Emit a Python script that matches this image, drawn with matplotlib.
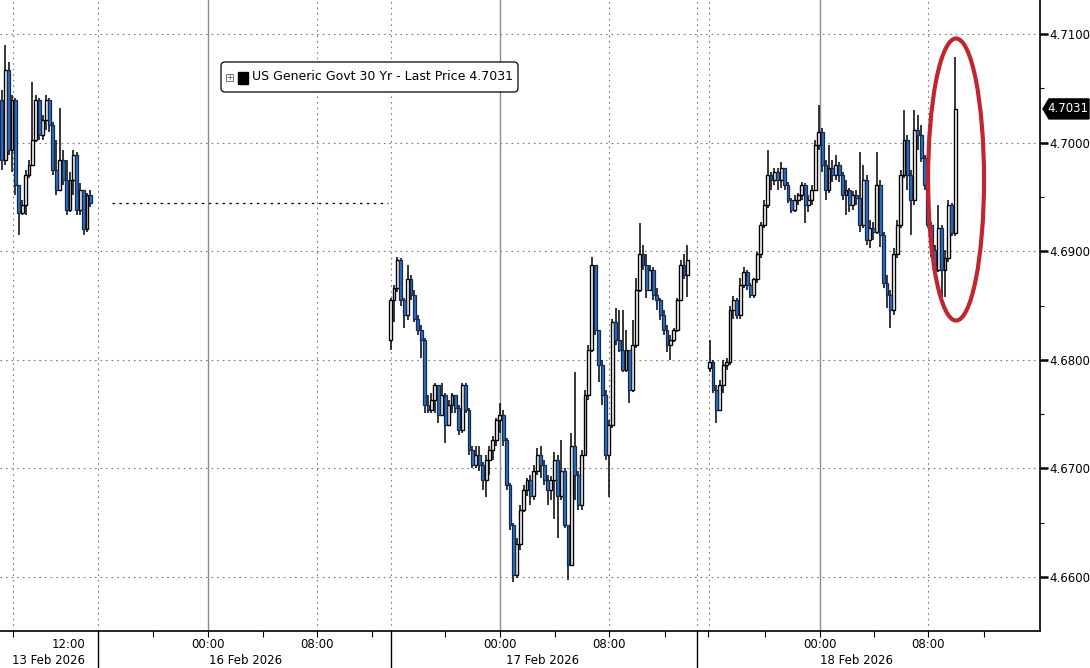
import numpy as np
import matplotlib
matplotlib.use("Agg")
import matplotlib.pyplot as plt
import matplotlib.transforms as mtransforms
from matplotlib.patches import Ellipse, FancyBboxPatch, Rectangle, Polygon

# 15 minute bars. x axis = trading time in hours, gaps squeezed out like the terminal does
bar_step = 0.25

# 13 Feb 2026 (session end)
s1_start = 0.125
s1_open0 = 4.7039
s1_close = [4.6984, 4.7067, 4.6993, 4.7039, 4.6961, 4.6935, 4.6943, 4.6970, 4.6979, 4.7002,
            4.7039, 4.7007, 4.7021, 4.7039, 4.7016, 4.6975, 4.6956, 4.6984, 4.6966, 4.6938,
            4.6966, 4.6989, 4.6938, 4.6956, 4.6920, 4.6952, 4.6944]
s1_high = [4.7048, 4.7090, 4.7074, 4.7044, 4.7041, 4.6961, 4.6947, 4.6975, 4.6984, 4.7056,
           4.7044, 4.7041, 4.7025, 4.7044, 4.7041, 4.7019, 4.7002, 4.7032, 4.6993, 4.6984,
           4.6973, 4.6993, 4.6991, 4.6963, 4.6956, 4.6954, 4.6956]
s1_low = [4.6975, 4.6979, 4.6989, 4.6973, 4.6952, 4.6915, 4.6933, 4.6933, 4.6967, 4.6979,
          4.7001, 4.7002, 4.7002, 4.7012, 4.7010, 4.6970, 4.6952, 4.6955, 4.6961, 4.6933,
          4.6936, 4.6952, 4.6933, 4.6933, 4.6915, 4.6918, 4.6941]

# 16 Feb evening -> 17 Feb
s2_start = 28.61
s2_open0 = 4.6818
s2_close = [4.6855, 4.6866, 4.6892, 4.6855, 4.6841, 4.6874, 4.6860, 4.6838, 4.6827, 4.6818,
            4.6758, 4.6754, 4.6763, 4.6777, 4.6749, 4.6768, 4.6740, 4.6758, 4.6768, 4.6756,
            4.6735, 4.6777, 4.6754, 4.6717, 4.6703, 4.6712, 4.6703, 4.6689, 4.6708, 4.6717,
            4.6726, 4.6745, 4.6749, 4.6726, 4.6685, 4.6648, 4.6602, 4.6630, 4.6662, 4.6680,
            4.6689, 4.6675, 4.6698, 4.6712, 4.6703, 4.6689, 4.6680, 4.6689, 4.6708, 4.6675,
            4.6698, 4.6648, 4.6611, 4.6721, 4.6694, 4.6666, 4.6712, 4.6768, 4.6809, 4.6887,
            4.6827, 4.6795, 4.6768, 4.6712, 4.6740, 4.6835, 4.6818, 4.6809, 4.6791, 4.6809,
            4.6772, 4.6814, 4.6864, 4.6897, 4.6887, 4.6864, 4.6883, 4.6860, 4.6855, 4.6841,
            4.6827, 4.6814, 4.6818, 4.6827, 4.6855, 4.6887, 4.6878, 4.6892]
s2_high = [4.6857, 4.6869, 4.6895, 4.6894, 4.6857, 4.6887, 4.6878, 4.6864, 4.6841, 4.6832,
           4.6820, 4.6768, 4.6769, 4.6779, 4.6763, 4.6779, 4.6769, 4.6763, 4.6769, 4.6763,
           4.6758, 4.6779, 4.6779, 4.6756, 4.6721, 4.6721, 4.6721, 4.6706, 4.6712, 4.6721,
           4.6730, 4.6746, 4.6760, 4.6754, 4.6728, 4.6687, 4.6650, 4.6636, 4.6666, 4.6685,
           4.6691, 4.6694, 4.6703, 4.6719, 4.6721, 4.6708, 4.6694, 4.6693, 4.6715, 4.6712,
           4.6726, 4.6700, 4.6648, 4.6733, 4.6789, 4.6698, 4.6717, 4.6772, 4.6814, 4.6895,
           4.6878, 4.6827, 4.6800, 4.6772, 4.6745, 4.6838, 4.6848, 4.6846, 4.6846, 4.6827,
           4.6809, 4.6837, 4.6875, 4.6926, 4.6906, 4.6897, 4.6887, 4.6885, 4.6866, 4.6857,
           4.6846, 4.6832, 4.6823, 4.6829, 4.6857, 4.6892, 4.6897, 4.6906]
s2_low = [4.6809, 4.6835, 4.6862, 4.6850, 4.6829, 4.6837, 4.6855, 4.6835, 4.6823, 4.6802,
          4.6751, 4.6751, 4.6751, 4.6751, 4.6742, 4.6749, 4.6723, 4.6742, 4.6751, 4.6751,
          4.6731, 4.6733, 4.6751, 4.6712, 4.6700, 4.6700, 4.6698, 4.6680, 4.6674, 4.6694,
          4.6708, 4.6721, 4.6733, 4.6721, 4.6680, 4.6643, 4.6595, 4.6599, 4.6625, 4.6660,
          4.6675, 4.6666, 4.6671, 4.6694, 4.6691, 4.6685, 4.6666, 4.6671, 4.6653, 4.6636,
          4.6671, 4.6645, 4.6597, 4.6611, 4.6671, 4.6662, 4.6662, 4.6712, 4.6763, 4.6807,
          4.6823, 4.6780, 4.6758, 4.6708, 4.6674, 4.6737, 4.6814, 4.6807, 4.6789, 4.6789,
          4.6760, 4.6770, 4.6811, 4.6862, 4.6883, 4.6857, 4.6864, 4.6855, 4.6846, 4.6837,
          4.6823, 4.6807, 4.6800, 4.6816, 4.6826, 4.6855, 4.6874, 4.6858]

# 17 Feb evening -> 18 Feb
s3_start = 51.98
s3_open0 = 4.6792
s3_close = [4.6798, 4.6772, 4.6754, 4.6777, 4.6795, 4.6798, 4.6846, 4.6855, 4.6841, 4.6869,
            4.6881, 4.6869, 4.6860, 4.6874, 4.6897, 4.6924, 4.6943, 4.6970, 4.6966, 4.6973,
            4.6966, 4.6977, 4.6961, 4.6947, 4.6938, 4.6947, 4.6952, 4.6961, 4.6943, 4.6947,
            4.6956, 4.6998, 4.7010, 4.6979, 4.6956, 4.6977, 4.6970, 4.6979, 4.6970, 4.6952,
            4.6956, 4.6943, 4.6952, 4.6949, 4.6924, 4.6966, 4.6910, 4.6921, 4.6918, 4.6961,
            4.6915, 4.6871, 4.6860, 4.6846, 4.6897, 4.6924, 4.6970, 4.7002, 4.6970, 4.6947,
            4.7012, 4.7007, 4.6986, 4.6961, 4.6924, 4.6901, 4.6883, 4.6921, 4.6883, 4.6894,
            4.6943, 4.6917, 4.7031]
s3_high = [4.6818, 4.6800, 4.6777, 4.6781, 4.6800, 4.6802, 4.6850, 4.6859, 4.6857, 4.6875,
           4.6885, 4.6883, 4.6871, 4.6875, 4.6899, 4.6927, 4.6947, 4.6993, 4.6973, 4.6977,
           4.6977, 4.6982, 4.6975, 4.6964, 4.6949, 4.6952, 4.6954, 4.6964, 4.6963, 4.6952,
           4.6961, 4.7002, 4.7035, 4.7013, 4.6984, 4.6998, 4.6984, 4.6989, 4.6982, 4.6973,
           4.6966, 4.6958, 4.6955, 4.6956, 4.6991, 4.6979, 4.6970, 4.6929, 4.6927, 4.6991,
           4.6966, 4.6918, 4.6878, 4.6864, 4.6903, 4.6929, 4.6975, 4.7030, 4.7007, 4.6975,
           4.7030, 4.7025, 4.7016, 4.6989, 4.6964, 4.6927, 4.6906, 4.6943, 4.6924, 4.6901,
           4.6947, 4.6944, 4.7079]
s3_low = [4.6789, 4.6769, 4.6742, 4.6768, 4.6769, 4.6791, 4.6795, 4.6838, 4.6838, 4.6838,
          4.6866, 4.6864, 4.6857, 4.6857, 4.6871, 4.6894, 4.6921, 4.6940, 4.6956, 4.6961,
          4.6956, 4.6958, 4.6956, 4.6944, 4.6935, 4.6936, 4.6943, 4.6947, 4.6926, 4.6936,
          4.6943, 4.6955, 4.6993, 4.6973, 4.6947, 4.6954, 4.6964, 4.6966, 4.6964, 4.6947,
          4.6933, 4.6936, 4.6938, 4.6943, 4.6918, 4.6921, 4.6906, 4.6903, 4.6910, 4.6916,
          4.6904, 4.6866, 4.6848, 4.6829, 4.6841, 4.6894, 4.6921, 4.6967, 4.6956, 4.6915,
          4.6943, 4.6993, 4.6982, 4.6956, 4.6921, 4.6895, 4.6875, 4.6881, 4.6858, 4.6858,
          4.6890, 4.6914, 4.6914]

last_price = 4.7031

# axis furniture (compressed hours)
x_max = 76.19
y_min, y_max = 4.65503, 4.71313
tick_pos = [0.95, 11.21, 15.24, 19.27, 23.22, 27.25, 32.60, 36.63, 40.66, 44.62,
            48.72, 51.87, 56.04, 60.07, 64.03, 67.99, 72.09]
midnight_pos = [15.24, 36.63, 60.07]
dotted_vpos = [0.95, 7.18, 23.22, 28.64, 44.62, 51.06, 51.94, 67.99]
session_breaks = [7.18, 28.64, 51.06]
time_labels = [(15.24, "00:00"), (23.22, "08:00"), (36.63, "00:00"), (44.62, "08:00"),
               (60.07, "00:00"), (67.99, "08:00")]
date_labels = [(15.30, "16 Feb 2026"), (37.10, "17 Feb 2026"), (60.10, "18 Feb 2026")]
gap_line = (8.2, 28.4)

up_face, up_edge = "white", "black"
dn_face, dn_edge = "#2f6fc0", "#142a50"


def draw_session(ax, start, open0, close, high, low):
    close = np.array(close)
    high = np.array(high)
    low = np.array(low)
    opens = np.concatenate(([open0], close[:-1]))
    x = start + bar_step * np.arange(len(close))
    ax.vlines(x, low, high, color="black", lw=1.1, zorder=2)
    up = close >= opens
    bottom = np.minimum(opens, close)
    height = np.maximum(np.abs(close - opens), 0.00008)
    ax.bar(x[up], height[up], bottom=bottom[up], width=0.21, color=up_face,
           edgecolor=up_edge, linewidth=1.0, zorder=3)
    ax.bar(x[~up], height[~up], bottom=bottom[~up], width=0.21, color=dn_face,
           edgecolor=dn_edge, linewidth=0.9, zorder=3)


W, H = 1090, 668
fig = plt.figure(figsize=(W / 100, H / 100), dpi=100)
ax = fig.add_axes([0, 37 / H, 1040 / W, 631 / H])

draw_session(ax, s1_start, s1_open0, s1_close, s1_high, s1_low)
draw_session(ax, s2_start, s2_open0, s2_close, s2_high, s2_low)
draw_session(ax, s3_start, s3_open0, s3_close, s3_high, s3_low)

# dotted line over the holiday
ax.plot(gap_line, [s1_close[-1], s1_close[-1]], color="black", lw=0.9,
        ls=(0, (2, 3.5)), zorder=2)

ax.set_xlim(0, x_max)
ax.set_ylim(y_min, y_max)

# grid
for yv in np.arange(4.66, 4.7101, 0.01):
    ax.axhline(yv, color="#7a7a7a", lw=0.8, ls=(0, (1.5, 3.5)), zorder=1)
for xv in midnight_pos:
    ax.axvline(xv, color="#8c8c8c", lw=1.0, zorder=1)
for xv in dotted_vpos:
    ax.axvline(xv, color="#7a7a7a", lw=0.8, ls=(0, (1.5, 3.5)), zorder=1)

for side in ["left", "top"]:
    ax.spines[side].set_visible(False)
ax.spines["right"].set_linewidth(1.2)
ax.spines["bottom"].set_linewidth(1.2)

# y axis on the right
ax.yaxis.tick_right()
ax.set_yticks(np.arange(4.66, 4.7101, 0.01))
ax.set_yticklabels(["%.4f" % v for v in np.arange(4.66, 4.7101, 0.01)])
ax.set_yticks(np.arange(4.665, 4.7101, 0.01), minor=True)
ax.tick_params(axis="y", which="major", direction="out", length=6, width=1.8,
               labelsize=8.5, pad=1, colors="black")
ax.tick_params(axis="y", which="minor", direction="out", length=3, width=0.8)

# x axis
ax.set_xticks(tick_pos)
ax.set_xticklabels([""] * len(tick_pos))
ax.tick_params(axis="x", direction="out", length=4, width=0.8)

blend = mtransforms.blended_transform_factory(ax.transData, ax.transAxes)
for xp, lab in time_labels:
    ax.annotate(lab, xy=(xp, 0), xycoords=blend, xytext=(0, -10),
                textcoords="offset points", ha="center", va="center", fontsize=8.5)
for xp, lab in date_labels:
    ax.annotate(lab, xy=(xp, 0), xycoords=blend, xytext=(0, -21),
                textcoords="offset points", ha="left", va="center", fontsize=8.5)
ax.annotate("12:00", xy=(6.23, 0), xycoords=blend, xytext=(0, -10),
            textcoords="offset points", ha="right", va="center", fontsize=8.5)
ax.annotate("13 Feb 2026", xy=(6.23, 0), xycoords=blend, xytext=(0, -21),
            textcoords="offset points", ha="right", va="center", fontsize=8.5)
for xv in session_breaks:
    ax.plot([xv, xv], [0, -0.07], transform=blend, color="black", lw=1.0, clip_on=False)

# last price tag (black flag with a notch pointing at the axis)
ty = ax.transData.transform((0, last_price))[1]
tag = [(1043, ty), (1049, ty + 10), (1089, ty + 10), (1089, ty - 10), (1049, ty - 10)]
fig.add_artist(Polygon(tag, closed=True, transform=None, fc="black", ec="black"))
fig.text(1068 / W, ty / H, "%.4f" % last_price, fontsize=8.5, color="white",
         ha="center", va="center")

# legend box
fig.add_artist(FancyBboxPatch((221, H - 92), 297, 30, boxstyle="round,pad=0,rounding_size=4",
                              transform=None, fc="white", ec="black", lw=0.9))
fig.add_artist(Rectangle((226, H - 81), 7, 7, transform=None, fc="white", ec="#777777", lw=0.7))
fig.text(229.5 / W, 1 - 77.5 / H, "+", fontsize=5.5, color="#555555", ha="center", va="center")
fig.add_artist(Rectangle((238, H - 84), 10, 12, transform=None, fc="black", ec="black"))
fig.text(252 / W, 1 - 77 / H, "US Generic Govt 30 Yr - Last Price %.4f" % last_price,
         fontsize=9, ha="left", va="center")

# red ring around the spike
ax.add_patch(Ellipse((70.04, 4.6966), width=4.1, height=0.02597, fill=False,
                     ec="#c0272d", lw=3, zorder=5))

fig.savefig("out.png", dpi=100)
